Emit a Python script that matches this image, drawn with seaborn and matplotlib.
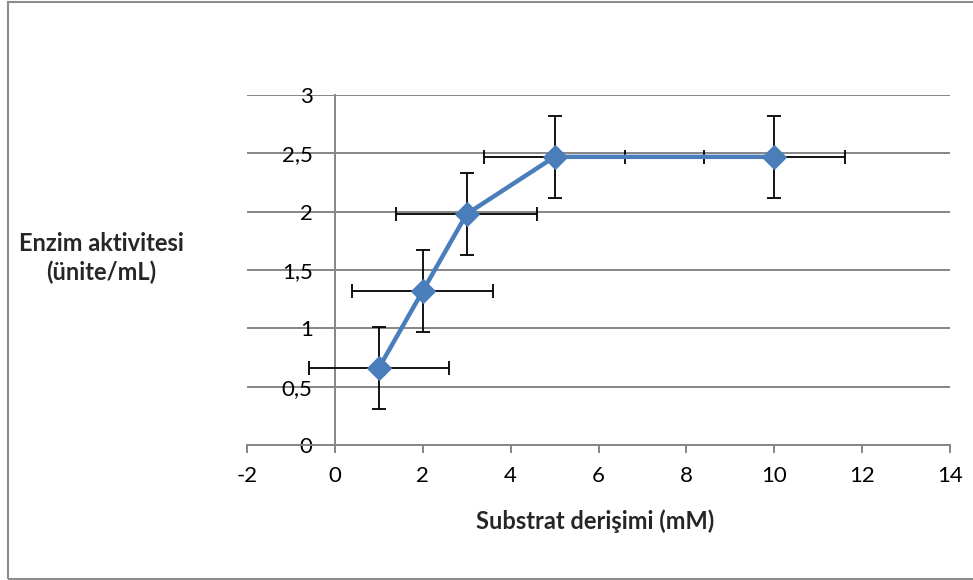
import matplotlib
matplotlib.use("Agg")
import matplotlib.pyplot as plt
import seaborn as sns
import pandas as pd
from matplotlib.patches import Rectangle
from matplotlib.ticker import FuncFormatter, MultipleLocator

# Data
substrate = [1, 2, 3, 5, 10]
activity = [0.66, 1.32, 1.98, 2.47, 2.47]
x_err = [1.6, 1.6, 1.6, 1.6, 1.6]
y_err = [0.35, 0.35, 0.35, 0.35, 0.35]
x_label = "Substrat derişimi (mM)"
y_label = "Enzim aktivitesi\n(ünite/mL)"

df = pd.DataFrame({"x": substrate, "y": activity})

sns.set_theme(style="white")
plt.rcParams["font.family"] = ["Lato", "DejaVu Sans"]

fig = plt.figure(figsize=(9.73, 5.80), dpi=100)
ax = fig.add_axes([247/973, 1-445/580, (950-247)/973, (445-95)/580])

grid_col = "#868686"
blue = "#4A7EBB"

ax.errorbar(df["x"], df["y"], xerr=x_err, yerr=y_err, fmt="none",
            ecolor="black", elinewidth=1.3, capsize=5, capthick=1.3, zorder=3)
sns.lineplot(data=df, x="x", y="y", ax=ax, color=blue, linewidth=3.2,
             marker="D", markersize=12, markeredgecolor=blue,
             markerfacecolor=blue, zorder=4, sort=False)

ax.set_xlim(-2, 14)
ax.set_ylim(0, 3)
ax.xaxis.set_major_locator(MultipleLocator(2))
ax.yaxis.set_major_locator(MultipleLocator(0.5))
fmt = FuncFormatter(lambda v, p: (f"{v:g}").replace(".", ","))
ax.xaxis.set_major_formatter(fmt)
ax.yaxis.set_major_formatter(fmt)

ax.grid(axis="y", color=grid_col, linewidth=1.4)
ax.set_axisbelow(True)
for s in ["top", "right"]:
    ax.spines[s].set_visible(False)
ax.spines["left"].set_position(("data", 0))
ax.spines["left"].set_color(grid_col)
ax.spines["left"].set_linewidth(1.4)
ax.spines["bottom"].set_color(grid_col)
ax.spines["bottom"].set_linewidth(1.4)

ax.tick_params(axis="x", direction="out", length=6, width=1.4, color=grid_col,
               labelsize=16, pad=9, labelcolor="black", bottom=True)
ax.tick_params(axis="y", length=0, labelsize=16, pad=16, labelcolor="black")

ax.set_xlabel("")
ax.set_ylabel("")
fig.text(595/973, 1-521/580, x_label, ha="center", va="center",
         fontsize=17, fontweight="bold")
fig.text(101/973, 1-258/580, y_label, ha="center", va="center",
         fontsize=17, fontweight="bold", linespacing=1.3)

fig.patches.append(Rectangle((7.5/973, 1/580), 1.1, 1-3/580,
                             transform=fig.transFigure, fill=False,
                             edgecolor="#8c8c8c", linewidth=1.5))

fig.savefig("out.png", dpi=100)
